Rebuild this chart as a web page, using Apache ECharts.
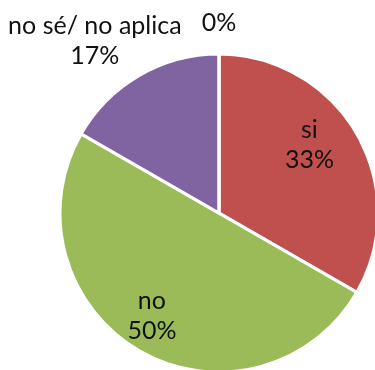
<!DOCTYPE html>
<html><head><meta charset="utf-8">
<script src="https://cdn.jsdelivr.net/npm/echarts@6/dist/echarts.min.js"></script>
<style>html,body{margin:0;padding:0;background:#fff}#c{width:375px;height:370px}</style>
</head><body><div id="c"></div>
<script>
var categories = ['si', 'no', 'no sé/ no aplica', ''];
var values = [33.3, 50, 16.7, 0];
var colors = ['#C0504D', '#9BBB59', '#8064A2', '#4BACC6'];

var chart = echarts.init(document.getElementById('c'));
var data = categories.map(function (c, i) {
  var inside = i < 2;
  return {
    name: c, value: values[i],
    itemStyle: { color: colors[i] },
    label: { position: inside ? 'inside' : 'outside' }
  };
});
var shifts = [[19, -27], [-26, 31], [-2, -22], [35, -16]];
chart.setOption({
  animation: false,
  series: [{
    type: 'pie',
    center: ['58.4%', '57.6%'],
    radius: 159,
    startAngle: 90,
    clockwise: true,
    avoidLabelOverlap: false,
    itemStyle: { borderColor: '#fff', borderWidth: 3 },
    label: {
      color: '#111',
      fontFamily: 'Lato',
      fontSize: 25,
      lineHeight: 30,
      formatter: function (p) {
        var pct = Math.round(p.percent) + '%';
        return p.name ? p.name + '\n' + pct : pct;
      }
    },
    labelLine: { show: false },
    labelLayout: function (p) {
      var s = shifts[p.dataIndex];
      return { dx: s[0], dy: s[1], align: 'center' };
    },
    data: data
  }]
});
</script></body></html>
